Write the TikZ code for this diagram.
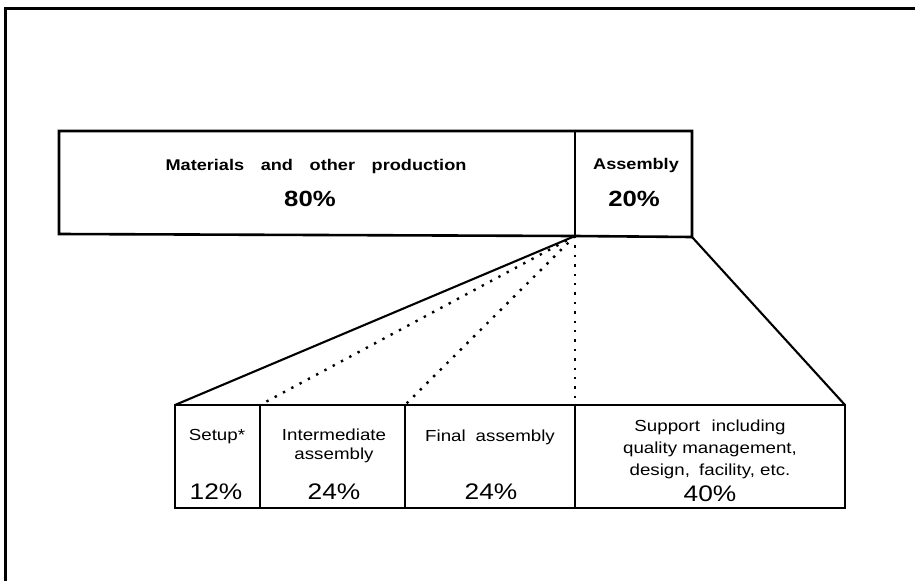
\documentclass[tikz,border=0pt]{standalone}
\usepackage{fontspec}
\setmainfont{Liberation Sans}[FakeStretch=1.17]
\begin{document}
\begin{tikzpicture}[x=1pt,y=-1pt,
  thickbox/.style={draw,line width=2.6pt,line join=miter},
  divider/.style={draw,line width=1.3pt},
  fan/.style={draw,line width=2.1pt},
  dotfan/.style={draw,line width=2.4pt,dash pattern=on 2.4pt off 7pt},
  toplabel/.style={font=\fontsize{15.5}{18}\selectfont\bfseries},
  toppct/.style={font=\fontsize{22}{26}\selectfont\bfseries},
  lowlabel/.style={font=\fontsize{16}{19.5}\selectfont,align=center},
  lowpct/.style={font=\fontsize{22.5}{27}\selectfont}]
\useasboundingbox (0,0) rectangle (915,581);
% page frame (top and left edges)
\draw[line width=3pt] (5,581) -- (5,8) -- (915,8);

% upper bar: materials vs. assembly
\coordinate (tl) at (59,131);
\coordinate (tm) at (575,131);
\coordinate (tr) at (692,131);
\coordinate (bl) at (59,234);
\coordinate (bm) at (575,236);
\coordinate (br) at (692,237);
\draw[thickbox] (tl) -- (tr) -- (br) -- (bm) -- (bl) -- cycle;
\draw[thickbox] (tm) -- (bm);
\node[toplabel] (mat) at (316,166) {Materials\hspace{0.75em} and\hspace{0.75em} other\hspace{0.75em} production};
\node[toppct] (matp) at (310,199) {80\%};
\node[toplabel] (asm) at (636,165) {Assembly};
\node[toppct] (asmp) at (634,199) {20\%};

% lower bar: breakdown of assembly
\coordinate (L1) at (175,405);
\coordinate (L2) at (260,405);
\coordinate (L3) at (405,405);
\coordinate (L4) at (575,405);
\coordinate (L5) at (845,405);
\coordinate (B1) at (175,508);
\coordinate (B2) at (260,508);
\coordinate (B3) at (405,508);
\coordinate (B4) at (575,508);
\coordinate (B5) at (845,508);
\draw[thickbox] (L1) -- (L5) -- (B5) -- (B1) -- cycle;
\draw[divider] (L2) -- (B2);
\draw[divider] (L3) -- (B3);
\draw[divider] (L4) -- (B4);

% fan connecting the two bars
\draw[fan] (bm) -- (L1);
\draw[fan] (br) -- (L5);
\draw[dotfan] (bm) -- (L2);
\draw[dotfan] (bm) -- (L3);
\draw[dotfan] (bm) -- (L4);

% lower labels
\node[lowlabel] (setup) at (217,437) {Setup*};
\node[lowpct] (setupp) at (216,492) {12\%};
\node[lowlabel] (inter) at (334,446) {Intermediate\\assembly};
\node[lowpct] (interp) at (334,492) {24\%};
\node[lowlabel] (final) at (490,437) {Final\hspace{0.3em} assembly};
\node[lowpct] (finalp) at (491,492) {24\%};
\node[lowlabel,font=\fontsize{16}{22}\selectfont] (supp) at (710,449) {Support\hspace{0.4em} including\\quality management,\\design,\hspace{0.25em} facility, etc.};
\node[lowpct] (suppp) at (710,494) {40\%};
\end{tikzpicture}
\end{document}
